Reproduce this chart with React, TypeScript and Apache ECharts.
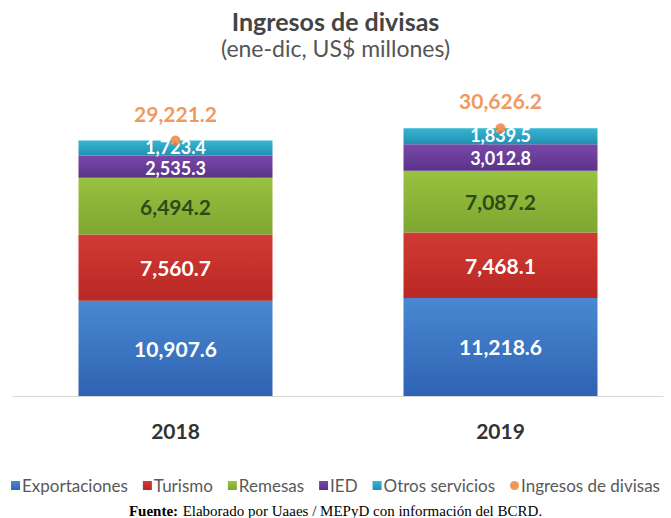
import React, { useEffect, useRef } from "react";
import * as echarts from "echarts";

const categories = ["2018", "2019"];
const exportaciones = [10907.6, 11218.6];
const turismo = [7560.7, 7468.1];
const remesas = [6494.2, 7087.2];
const ied = [2535.3, 3012.8];
const otros = [1723.4, 1839.5];
const ingresos = [29221.2, 30626.2];

const fmt = (v: number) =>
  v.toLocaleString("en-US", { minimumFractionDigits: 1, maximumFractionDigits: 1 });

const grad = (top: string, bottom: string) =>
  new echarts.graphic.LinearGradient(0, 0, 0, 1, [
    { offset: 0, color: top },
    { offset: 1, color: bottom },
  ]);

export default function App() {
  const ref = useRef<HTMLDivElement>(null);
  useEffect(() => {
    document.body.style.margin = "0";
    const chart = echarts.init(ref.current!, undefined, { renderer: "svg" });
    const font = "Lato, 'Open Sans', sans-serif";
    const serif = "'Liberation Serif', 'DejaVu Serif', serif";
    const barLabel = (color: string, size: number, dy: number) => ({
      show: true,
      position: "inside" as const,
      color,
      fontFamily: font,
      fontWeight: "bold" as const,
      fontSize: size,
      lineHeight: 14,
      offset: [0, dy],
      formatter: (p: any) => fmt(p.value),
    });
    const mk = (
      name: string,
      data: number[],
      top: string,
      bottom: string,
      labelColor: string,
      size: number,
      dy: number
    ) => ({
      name,
      type: "bar" as const,
      stack: "total",
      data,
      barWidth: 194,
      itemStyle: { color: grad(top, bottom) },
      label: barLabel(labelColor, size, dy),
    });
    chart.setOption({
      animation: false,
      backgroundColor: "#ffffff",
      textStyle: { fontFamily: font },
      title: [
        {
          text: "Ingresos de divisas",
          subtext: "(ene-dic, US$ millones)",
          left: "center",
          top: 3,
          itemGap: 3,
          textStyle: { fontFamily: font, fontSize: 25, fontWeight: "bold", color: "#444444" },
          subtextStyle: { fontFamily: font, fontSize: 23, color: "#555555" },
        },
        {
          text: "{b|Fuente:} {n|Elaborado por Uaaes / MEPyD con información del BCRD.}",
          left: "center",
          top: 502,
          padding: 0,
          textStyle: {
            fontWeight: "normal",
            rich: {
              b: { fontFamily: serif, fontWeight: "bold", fontSize: 15, color: "#000", lineHeight: 16 },
              n: { fontFamily: serif, fontWeight: "normal", fontSize: 15, color: "#000", lineHeight: 16 },
            },
          },
        },
      ],
      legend: {
        bottom: 19,
        left: "center",
        itemWidth: 9,
        itemHeight: 9,
        itemGap: 15,
        textStyle: { fontFamily: font, fontSize: 17, color: "#595959", padding: [0, 0, 0, -3] },
        data: [
          { name: "Exportaciones", icon: "rect" },
          { name: "Turismo", icon: "rect" },
          { name: "Remesas", icon: "rect" },
          { name: "IED", icon: "rect" },
          { name: "Otros servicios", icon: "rect" },
          { name: "Ingresos de divisas", icon: "circle" },
        ],
      },
      grid: { left: 13, right: 8, top: 90, bottom: 122, containLabel: false },
      xAxis: {
        type: "category",
        data: categories,
        axisTick: { show: false },
        axisLine: { lineStyle: { color: "#d9d9d9" } },
        axisLabel: { fontFamily: font, fontSize: 21, fontWeight: "bold", color: "#333333", margin: 24 },
      },
      yAxis: {
        type: "value",
        min: 0,
        max: 35000,
        show: false,
        splitLine: { show: false },
      },
      series: [
        mk("Exportaciones", exportaciones, "#4a88d2", "#2e63b2", "#ffffff", 21, 0),
        mk("Turismo", turismo, "#d23a34", "#b82824", "#ffffff", 21, 0),
        mk("Remesas", remesas, "#98c23f", "#7ea632", "#2f4a1a", 21, 0),
        mk("IED", ied, "#7a48a8", "#5a3388", "#ffffff", 18, 1),
        mk("Otros servicios", otros, "#35b6d2", "#238fb0", "#ffffff", 18, -1),
        {
          name: "Ingresos de divisas",
          type: "scatter",
          data: ingresos,
          symbolSize: 10,
          itemStyle: { color: "#ed7d31" },
          z: 5,
          label: {
            show: true,
            position: "top",
            distance: 12,
            color: "#ed7d31",
            fontFamily: font,
            fontWeight: "bold",
            fontSize: 21,
            formatter: (p: any) => fmt(p.value),
          },
        },
      ],
    });
    return () => chart.dispose();
  }, []);
  return <div ref={ref} style={{ width: 671, height: 518 }} />;
}
